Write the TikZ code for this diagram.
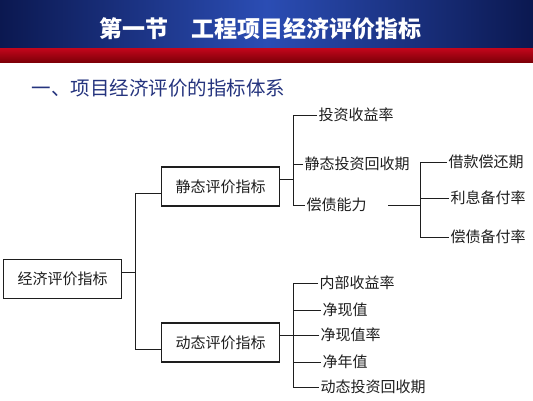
\documentclass[tikz,border=0pt]{standalone}
\usepackage{fontspec}
\newfontfamily\cjk{Noto Sans CJK SC}
\usepackage{tikz}

\definecolor{hdrdark}{HTML}{0B1850}
\definecolor{hdrlight}{HTML}{2B4DB4}
\definecolor{redtop}{HTML}{C4061C}
\definecolor{redbot}{HTML}{7E0008}
\definecolor{subblue}{HTML}{25347E}
\definecolor{ink}{HTML}{1E1E1E}

\begin{document}
\begin{tikzpicture}[x=1pt,y=-1pt,
    box/.style={draw=ink, line width=1.1pt, minimum width=118pt, minimum height=39pt,
        inner sep=0pt, font=\cjk\fontsize{15}{15}\selectfont, text=ink},
    item/.style={anchor=west, inner sep=1.5pt, font=\cjk\fontsize{15}{15}\selectfont, text=ink},
    wire/.style={draw=ink, line width=1pt}]
        \useasboundingbox (0,0) rectangle (533,400);

        % header bands
        \shade[left color=hdrdark, right color=hdrdark, middle color=hdrlight] (0,0) rectangle (533,48);
        \shade[top color=redtop, bottom color=redbot] (0,48) rectangle (533,62);
        \node[text=white, font=\cjk\bfseries\fontsize{23}{23}\selectfont] (title) at (260,29) {第一节\quad 工程项目经济评价指标};
        \node[anchor=west, text=subblue, font=\cjk\fontsize{19.5}{19.5}\selectfont] (sub) at (28,88) {一、项目经济评价的指标体系};

        \node[box] (root) at (62.5,279) {经济评价指标};
        \node[box] (static) at (220.5,186.5) {静态评价指标};
        \node[box] (dynamic) at (220.5,342.5) {动态评价指标};

        \node[item] (s1) at (317,115) {投资收益率};
        \node[item] (s2) at (303,164) {静态投资回收期};
        \node[item] (s3) at (305,205) {偿债能力};

        \node[item] (c1) at (447,162) {借款偿还期};
        \node[item] (c2) at (449,198) {利息备付率};
        \node[item] (c3) at (449,237) {偿债备付率};

        \node[item] (d1) at (318,283) {内部收益率};
        \node[item] (d2) at (321,310) {净现值};
        \node[item] (d3) at (319,335) {净现值率};
        \node[item] (d4) at (321,362) {净年值};
        \node[item] (d5) at (319,387) {动态投资回收期};

        \coordinate (t) at (135,0);
        \coordinate (sb) at (293,0);
        \coordinate (cb) at (420,0);
        \coordinate (db) at (293,0);

        \draw[wire] ([yshift=7pt]root.east) -- ([yshift=7pt]root.east -| t);
        \draw[wire] ([yshift=-7pt]static.west) -- ([yshift=-7pt]static.west -| t)
            -- ([yshift=-7pt]dynamic.west -| t) -- ([yshift=-7pt]dynamic.west);

        \draw[wire] ([yshift=7pt]static.east) -- ([yshift=7pt]static.east -| sb);
        \draw[wire] (s1.west) -- (s1.west -| sb) -- (s3.west -| sb) -- (s3.west);
        \draw[wire] (s2.west) -- (s2.west -| sb);

        \draw[wire, shorten <=20pt] (s3.east) -- (s3.east -| cb);
        \draw[wire] (c1.west) -- (c1.west -| cb) -- (c3.west -| cb) -- (c3.west);
        \draw[wire] (c2.west) -- (c2.west -| cb);

        \draw[wire] ([yshift=7pt]dynamic.east) -- ([yshift=7pt]dynamic.east -| db);
        \draw[wire] (d1.west) -- (d1.west -| db) -- (d5.west -| db) -- (d5.west);
        \foreach \n in {d2,d3,d4}
            \draw[wire] (\n.west) -- (\n.west -| db);
    \end{tikzpicture}
\end{document}
